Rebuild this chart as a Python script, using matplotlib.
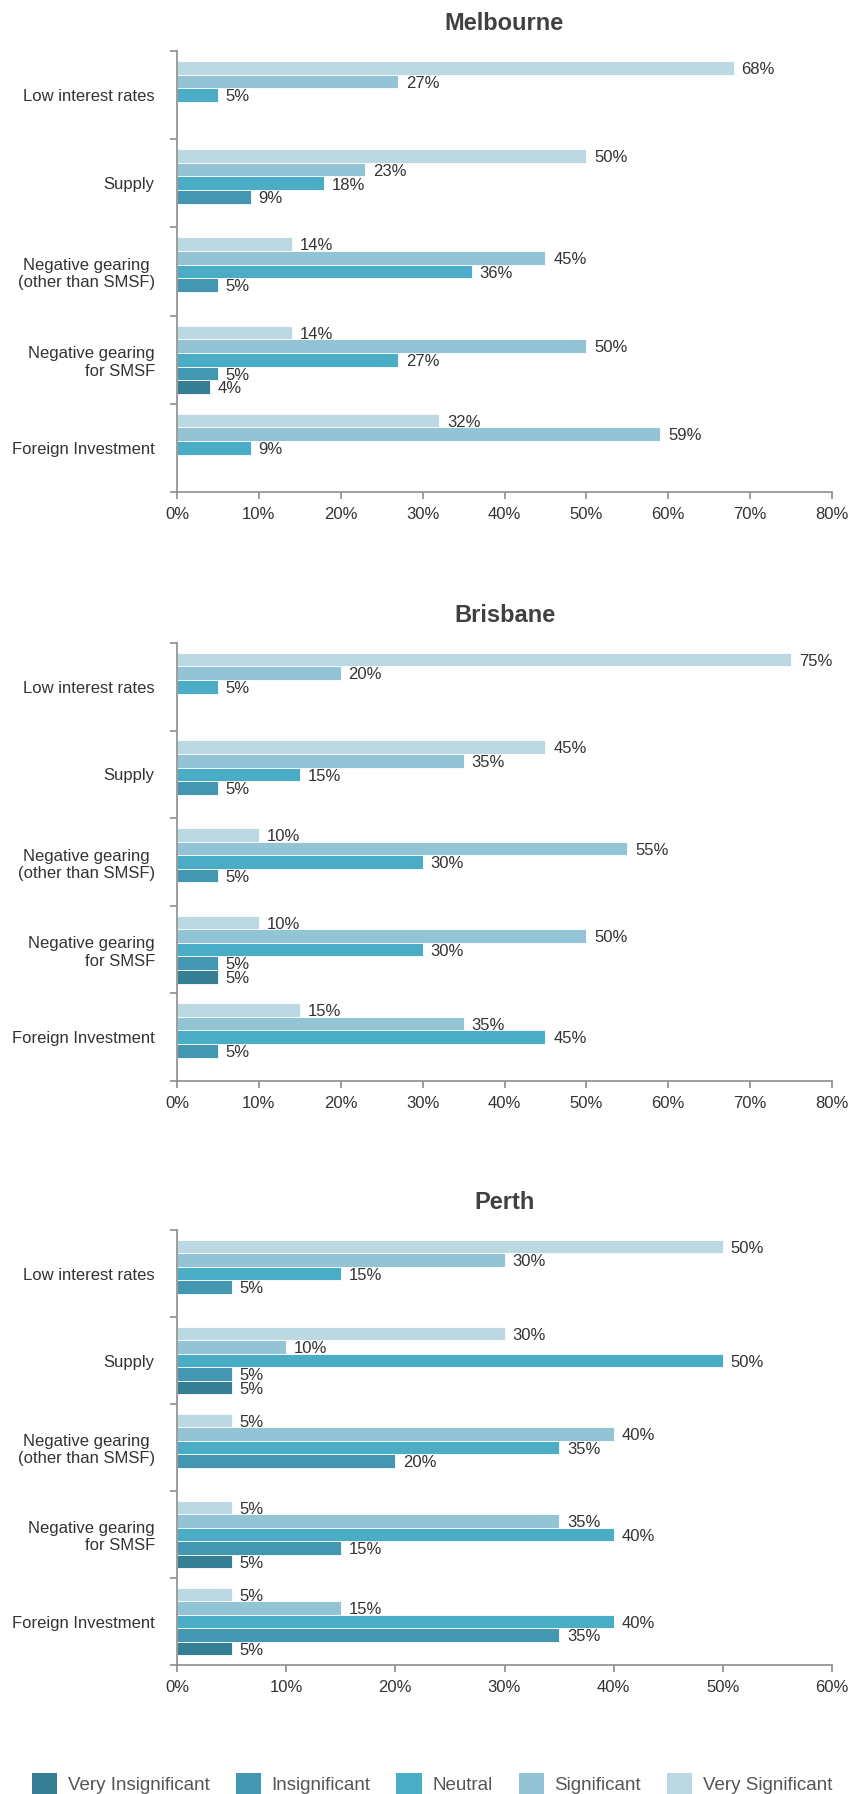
import matplotlib.pyplot as plt
from matplotlib.patches import Patch

plt.rcParams['font.family'] = ['Liberation Sans', 'DejaVu Sans']

factors = ['Low interest rates', 'Supply', 'Negative gearing\n(other than SMSF)',
           'Negative gearing\nfor SMSF', 'Foreign Investment']

levels = ['Very Significant', 'Significant', 'Neutral', 'Insignificant', 'Very Insignificant']
colors = ['#bcd8e3', '#93c4d5', '#4bacc6', '#4397b0', '#367e93']

# % of respondents per factor, order of `levels`
melbourne = [
    [68, 27, 5, 0, 0],
    [50, 23, 18, 9, 0],
    [14, 45, 36, 5, 0],
    [14, 50, 27, 5, 4],
    [32, 59, 9, 0, 0],
]
brisbane = [
    [75, 20, 5, 0, 0],
    [45, 35, 15, 5, 0],
    [10, 55, 30, 5, 0],
    [10, 50, 30, 5, 5],
    [15, 35, 45, 5, 0],
]
perth = [
    [50, 30, 15, 5, 0],
    [30, 10, 50, 5, 5],
    [5, 40, 35, 20, 0],
    [5, 35, 40, 15, 5],
    [5, 15, 40, 35, 5],
]

cities = ['Melbourne', 'Brisbane', 'Perth']
city_data = [melbourne, brisbane, perth]
xmax = [80, 80, 60]

W, H = 864, 1794
fig = plt.figure(figsize=(W / 100, H / 100), dpi=100)

# axes boxes in pixels: (top, bottom)
boxes = [(51, 492), (643, 1081), (1230, 1665)]
left, right = 177, 832

spine_c = '#8c8c8c'
text_c = '#333333'
bar_h = 0.155

for (top, bot), city, data, xm in zip(boxes, cities, city_data, xmax):
    ax = fig.add_axes([left / W, 1 - bot / H, (right - left) / W, (bot - top) / H])
    for i, row in enumerate(data):
        for k, v in enumerate(row):
            if v == 0:
                continue
            y = i + (k - 2) * bar_h
            ax.barh(y, v, height=bar_h, color=colors[k], edgecolor='white', linewidth=0.6)
            ax.text(v + xm * 0.012, y + 0.02, f'{v}%', va='center', ha='left',
                    fontsize=12, color=text_c)
    ax.set_xlim(0, xm)
    ax.set_ylim(len(factors) - 0.5, -0.5)
    ax.set_xticks(range(0, xm + 1, 10))
    ax.set_xticklabels([f'{t}%' for t in range(0, xm + 1, 10)])
    ax.set_yticks([i - 0.5 for i in range(len(factors) + 1)])
    ax.set_yticklabels([])
    ax.set_yticks(range(len(factors)), minor=True)
    ax.set_yticklabels(factors, minor=True)
    ax.tick_params(axis='y', which='minor', length=0, pad=16, labelsize=12, labelcolor=text_c)
    ax.tick_params(axis='y', which='major', length=5, color=spine_c, width=1.2)
    ax.tick_params(axis='x', length=5, color=spine_c, width=1.2, labelsize=12,
                   labelcolor=text_c, pad=6)
    for j, lab in enumerate(ax.get_yticklabels(minor=True)):
        lab.set_multialignment('right' if j == 3 else 'center')
    for s in ['top', 'right']:
        ax.spines[s].set_visible(False)
    for s in ['left', 'bottom']:
        ax.spines[s].set_color(spine_c)
        ax.spines[s].set_linewidth(1.2)
    ax.set_title(city, fontsize=17, fontweight='bold', color='#404040', pad=15)

handles = [Patch(facecolor=colors[k], label=levels[k]) for k in range(4, -1, -1)]
fig.legend(handles=handles, loc='center', bbox_to_anchor=(0.5, 1 - 1784 / H), ncol=5,
           frameon=False, fontsize=13.5, labelcolor='#555555', handlelength=1.35,
           handleheight=1.35, handletextpad=0.55, columnspacing=1.4)

fig.savefig('out.png', dpi=100)
